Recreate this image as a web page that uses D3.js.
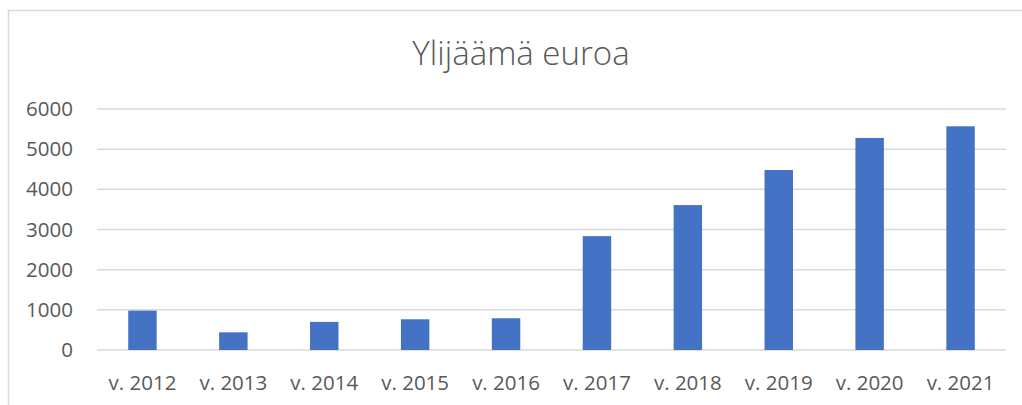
<!DOCTYPE html>
<html>
<head>
<meta charset="utf-8">
<script src="https://cdn.jsdelivr.net/npm/d3@7"></script>
<style>
  body { margin: 0; background: #fff; }
  svg { display: block; }
</style>
</head>
<body>
<svg id="chart" width="1022" height="405"></svg>
<script>
const categories = ["v. 2012", "v. 2013", "v. 2014", "v. 2015", "v. 2016",
                    "v. 2017", "v. 2018", "v. 2019", "v. 2020", "v. 2021"];
const values = [980, 440, 700, 765, 790, 2835, 3608, 4481, 5279, 5570];
const yTicks = [0, 1000, 2000, 3000, 4000, 5000, 6000];
const title = "Ylijäämä euroa";

const margin = { left: 97, right: 16, top: 109, bottom: 55 };
const width = 1022, height = 405;
const font = "'Open Sans', 'Noto Sans', sans-serif";

const svg = d3.select("#chart");

// chart area border (runs off right and bottom edge)
svg.append("rect")
    .attr("x", 8.5)
    .attr("y", 10.5)
    .attr("width", 1100)
    .attr("height", 500)
    .style("fill", "none")
    .style("stroke", "#d9d9d9")
    .style("stroke-width", 1.5);

const x = d3.scaleBand()
    .domain(categories)
    .range([margin.left, width - margin.right])
    .paddingInner(0.687)
    .paddingOuter(0.3435);

const y = d3.scaleLinear()
    .domain([0, 6000])
    .range([height - margin.bottom, margin.top]);

// gridlines
svg.append("g")
    .attr("class", "grid")
    .selectAll("line")
    .data(yTicks)
    .enter().append("line")
        .attr("x1", margin.left)
        .attr("x2", width - margin.right)
        .attr("y1", d => y(d))
        .attr("y2", d => y(d))
        .style("stroke", "#d9d9d9")
        .style("stroke-width", 1.5);

// bars
svg.append("g")
    .attr("class", "bars")
    .selectAll("rect")
    .data(values)
    .enter().append("rect")
        .attr("x", (d, i) => x(categories[i]))
        .attr("y", d => y(d))
        .attr("width", x.bandwidth())
        .attr("height", d => y(0) - y(d))
        .style("fill", "#4472c4");

// y axis labels
const yAxis = d3.axisLeft(y).tickValues(yTicks).tickFormat(d3.format("d")).tickSize(0).tickPadding(24);
svg.append("g")
    .attr("transform", `translate(${margin.left}, 0)`)
    .call(yAxis)
    .call(g => g.select(".domain").remove())
    .call(g => g.selectAll("text")
        .style("font-family", font)
        .style("font-size", "20.5px")
        .style("fill", "#595959"));

// x axis labels
const xAxis = d3.axisBottom(x).tickSize(0).tickPadding(25);
svg.append("g")
    .attr("transform", `translate(0, ${y(0)})`)
    .call(xAxis)
    .call(g => g.select(".domain").remove())
    .call(g => g.selectAll("text")
        .style("font-family", font)
        .style("font-size", "20.5px")
        .style("fill", "#595959"));

// title
svg.append("text")
    .attr("x", 521)
    .attr("y", 65)
    .style("text-anchor", "middle")
    .style("font-family", font)
    .style("font-weight", 300)
    .style("font-size", "33px")
    .style("fill", "#595959")
    .text(title);
</script>
</body>
</html>
